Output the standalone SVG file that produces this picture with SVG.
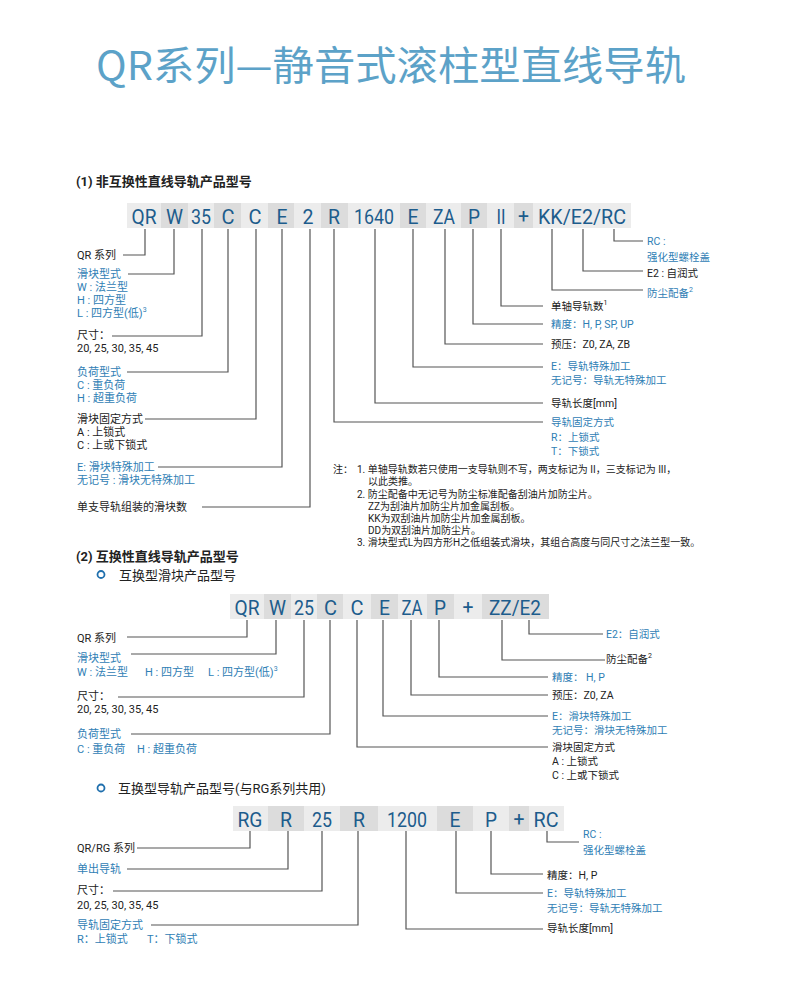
<svg xmlns="http://www.w3.org/2000/svg" width="800" height="994" viewBox="0 0 800 994">
<style>
text{font-family:Roboto,"Noto Sans CJK SC",sans-serif;}
.title{font-family:"Noto Sans CJK SC",sans-serif;font-size:40px;fill:#5ca2c8;}
.hd{font-size:13px;fill:#222;font-weight:bold;}
.sub{font-size:13px;fill:#222;}
.code{font-size:21px;fill:#1d5c8c;text-anchor:middle;}
.k{font-size:11px;fill:#222;}
.b{font-size:11px;fill:#2f80b5;}
.kr{font-size:10.5px;fill:#222;}
.br{font-size:10.5px;fill:#2f80b5;}
.n{font-size:10px;fill:#222;}
.lt{fill:#ececec;}
.dk{fill:#dcdcdc;}
.ln{fill:none;stroke:#555;stroke-width:1.2;}
.ring{fill:none;stroke:#1f6fad;stroke-width:1.8;}
</style>
<rect width="800" height="994" fill="#fff"/>
<text class="title" x="391" y="80" text-anchor="middle" textLength="590" lengthAdjust="spacingAndGlyphs">QR系列—静音式滚柱型直线导轨</text>

<!-- Section 1 -->
<text class="hd" x="76" y="186">(1) 非互换性直线导轨产品型号</text>
<g id="row1">
<rect class="lt" x="127" y="203" width="34" height="25"/><text class="code" x="144" y="224" textLength="25" lengthAdjust="spacingAndGlyphs">QR</text>
<rect class="dk" x="161" y="203" width="27" height="25"/><text class="code" x="174.5" y="224" textLength="17" lengthAdjust="spacingAndGlyphs">W</text>
<rect class="lt" x="188" y="203" width="26" height="25"/><text class="code" x="201" y="224" textLength="20" lengthAdjust="spacingAndGlyphs">35</text>
<rect class="dk" x="214" y="203" width="27" height="25"/><text class="code" x="228" y="224" textLength="13" lengthAdjust="spacingAndGlyphs">C</text>
<rect class="lt" x="241" y="203" width="27" height="25"/><text class="code" x="255" y="224" textLength="13" lengthAdjust="spacingAndGlyphs">C</text>
<rect class="dk" x="268" y="203" width="26" height="25"/><text class="code" x="282" y="224" textLength="11" lengthAdjust="spacingAndGlyphs">E</text>
<rect class="lt" x="294" y="203" width="27" height="25"/><text class="code" x="308" y="224" textLength="11" lengthAdjust="spacingAndGlyphs">2</text>
<rect class="dk" x="321" y="203" width="27" height="25"/><text class="code" x="334" y="224" textLength="12" lengthAdjust="spacingAndGlyphs">R</text>
<rect class="lt" x="348" y="203" width="52" height="25"/><text class="code" x="374" y="224" textLength="40" lengthAdjust="spacingAndGlyphs">1640</text>
<rect class="dk" x="400" y="203" width="26" height="25"/><text class="code" x="413" y="224" textLength="11" lengthAdjust="spacingAndGlyphs">E</text>
<rect class="lt" x="426" y="203" width="35" height="25"/><text class="code" x="444" y="224" textLength="22" lengthAdjust="spacingAndGlyphs">ZA</text>
<rect class="dk" x="461" y="203" width="26" height="25"/><text class="code" x="474" y="224" textLength="12" lengthAdjust="spacingAndGlyphs">P</text>
<rect class="lt" x="487" y="203" width="27" height="25"/><text class="code" x="501" y="224" textLength="9" lengthAdjust="spacingAndGlyphs">II</text>
<rect class="dk" x="514" y="203" width="19" height="25"/><text class="code" x="523.5" y="223" textLength="11" lengthAdjust="spacingAndGlyphs">+</text>
<rect class="lt" x="533" y="203" width="98" height="25"/><text class="code" x="582" y="224" textLength="88" lengthAdjust="spacingAndGlyphs">KK/E2/RC</text>
</g>
<g id="labels1-left">
<text class="k" x="77" y="259">QR 系列</text>
<text class="b" x="77" y="278" font-size="12">滑块型式</text>
<text class="b" x="77" y="291">W : 法兰型</text>
<text class="b" x="77" y="304">H : 四方型</text>
<text class="b" x="77" y="317">L : 四方型(低)<tspan font-size="7" dy="-5">3</tspan></text>
<text class="k" x="77" y="339" font-size="12">尺寸：</text>
<text class="k" x="77" y="352">20, 25, 30, 35, 45</text>
<text class="b" x="77" y="376" font-size="12">负荷型式</text>
<text class="b" x="77" y="389">C : 重负荷</text>
<text class="b" x="77" y="402">H : 超重负荷</text>
<text class="k" x="77" y="423" font-size="11.5">滑块固定方式</text>
<text class="k" x="77" y="436">A : 上锁式</text>
<text class="k" x="77" y="449">C : 上或下锁式</text>
<text class="b" x="77" y="471" font-size="11.5">E: 滑块特殊加工</text>
<text class="b" x="77" y="484">无记号 : 滑块无特殊加工</text>
<text class="k" x="77" y="511" font-size="12.5">单支导轨组装的滑块数</text>
</g>
<g id="labels1-right">
<text class="br" x="647" y="245">RC :</text>
<text class="br" x="647" y="261">强化型螺栓盖</text>
<text class="kr" x="647" y="277">E2 : 自润式</text>
<text class="br" x="647" y="297">防尘配备<tspan font-size="7" dy="-5">2</tspan></text>
<text class="kr" x="551" y="310">单轴导轨数<tspan font-size="7" dy="-5">1</tspan></text>
<text class="br" x="551" y="328">精度：H, P, SP, UP</text>
<text class="kr" x="551" y="348">预压：Z0, ZA, ZB</text>
<text class="br" x="551" y="370">E：导轨特殊加工</text>
<text class="br" x="551" y="384">无记号：导轨无特殊加工</text>
<text class="kr" x="551" y="407">导轨长度[mm]</text>
<text class="br" x="551" y="426">导轨固定方式</text>
<text class="br" x="551" y="441">R：上锁式</text>
<text class="br" x="551" y="455">T：下锁式</text>
</g>
<g id="notes">
<text class="n" x="333" y="473">注：</text>
<text class="n" x="357" y="473">1. 单轴导轨数若只使用一支导轨则不写，两支标记为 II，三支标记为 III，</text>
<text class="n" x="368" y="485">以此类推。</text>
<text class="n" x="357" y="498">2. 防尘配备中无记号为防尘标准配备刮油片加防尘片。</text>
<text class="n" x="368" y="510">ZZ为刮油片加防尘片加金属刮板。</text>
<text class="n" x="368" y="522">KK为双刮油片加防尘片加金属刮板。</text>
<text class="n" x="368" y="534">DD为双刮油片加防尘片。</text>
<text class="n" x="357" y="546">3. 滑块型式L为四方形H之低组装式滑块，其组合高度与同尺寸之法兰型一致。</text>
</g>

<!-- Section 2 -->
<text class="hd" x="76" y="561">(2) 互换性直线导轨产品型号</text>
<circle class="ring" cx="101" cy="574.5" r="3.5"/>
<text class="sub" x="119" y="580">互换型滑块产品型号</text>
<g id="row2">
<rect class="lt" x="230" y="594" width="34" height="25"/><text class="code" x="247" y="615" textLength="25" lengthAdjust="spacingAndGlyphs">QR</text>
<rect class="dk" x="264" y="594" width="27" height="25"/><text class="code" x="277.5" y="615" textLength="17" lengthAdjust="spacingAndGlyphs">W</text>
<rect class="lt" x="291" y="594" width="26" height="25"/><text class="code" x="304" y="615" textLength="20" lengthAdjust="spacingAndGlyphs">25</text>
<rect class="dk" x="317" y="594" width="26" height="25"/><text class="code" x="330.5" y="615" textLength="13" lengthAdjust="spacingAndGlyphs">C</text>
<rect class="lt" x="343" y="594" width="28" height="25"/><text class="code" x="357" y="615" textLength="13" lengthAdjust="spacingAndGlyphs">C</text>
<rect class="dk" x="371" y="594" width="27" height="25"/><text class="code" x="384.5" y="615" textLength="11" lengthAdjust="spacingAndGlyphs">E</text>
<rect class="lt" x="398" y="594" width="29" height="25"/><text class="code" x="412" y="615" textLength="21" lengthAdjust="spacingAndGlyphs">ZA</text>
<rect class="dk" x="427" y="594" width="27" height="25"/><text class="code" x="440" y="615" textLength="12" lengthAdjust="spacingAndGlyphs">P</text>
<rect class="lt" x="454" y="594" width="28" height="25"/><text class="code" x="468" y="614" textLength="11" lengthAdjust="spacingAndGlyphs">+</text>
<rect class="dk" x="482" y="594" width="67" height="25"/><text class="code" x="515" y="615" textLength="52" lengthAdjust="spacingAndGlyphs">ZZ/E2</text>
</g>
<g id="labels2-left">
<text class="k" x="77" y="642">QR 系列</text>
<text class="b" x="77" y="662">滑块型式</text>
<text class="b" x="77" y="676">W : 法兰型</text>
<text class="b" x="145" y="676">H : 四方型</text>
<text class="b" x="208" y="676">L : 四方型(低)<tspan font-size="7" dy="-5">3</tspan></text>
<text class="k" x="77" y="700">尺寸：</text>
<text class="k" x="77" y="713">20, 25, 30, 35, 45</text>
<text class="b" x="77" y="738">负荷型式</text>
<text class="b" x="77" y="753">C : 重负荷</text>
<text class="b" x="137" y="753">H : 超重负荷</text>
</g>
<g id="labels2-right">
<text class="br" x="606" y="638">E2：自润式</text>
<text class="kr" x="606" y="663">防尘配备<tspan font-size="7" dy="-5">2</tspan></text>
<text class="br" x="552" y="681">精度： H, P</text>
<text class="kr" x="552" y="699">预压：Z0, ZA</text>
<text class="br" x="552" y="720">E：滑块特殊加工</text>
<text class="br" x="552" y="734">无记号：滑块无特殊加工</text>
<text class="kr" x="552" y="751">滑块固定方式</text>
<text class="kr" x="552" y="765">A : 上锁式</text>
<text class="kr" x="552" y="779">C : 上或下锁式</text>
</g>

<!-- Section 3 -->
<circle class="ring" cx="101" cy="788" r="3.5"/>
<text class="sub" x="118" y="793">互换型导轨产品型号(与RG系列共用)</text>
<g id="row3">
<rect class="lt" x="233" y="806" width="35" height="25"/><text class="code" x="250" y="827" textLength="25" lengthAdjust="spacingAndGlyphs">RG</text>
<rect class="dk" x="268" y="806" width="36" height="25"/><text class="code" x="286" y="827" textLength="12" lengthAdjust="spacingAndGlyphs">R</text>
<rect class="lt" x="304" y="806" width="36" height="25"/><text class="code" x="322" y="827" textLength="20" lengthAdjust="spacingAndGlyphs">25</text>
<rect class="dk" x="340" y="806" width="38" height="25"/><text class="code" x="359" y="827" textLength="12" lengthAdjust="spacingAndGlyphs">R</text>
<rect class="lt" x="378" y="806" width="59" height="25"/><text class="code" x="407" y="827" textLength="40" lengthAdjust="spacingAndGlyphs">1200</text>
<rect class="dk" x="437" y="806" width="36" height="25"/><text class="code" x="455" y="827" textLength="11" lengthAdjust="spacingAndGlyphs">E</text>
<rect class="lt" x="473" y="806" width="36" height="25"/><text class="code" x="491" y="827" textLength="12" lengthAdjust="spacingAndGlyphs">P</text>
<rect class="dk" x="509" y="806" width="20" height="25"/><text class="code" x="519" y="826" textLength="11" lengthAdjust="spacingAndGlyphs">+</text>
<rect class="lt" x="529" y="806" width="35" height="25"/><text class="code" x="546" y="827" textLength="25" lengthAdjust="spacingAndGlyphs">RC</text>
</g>
<g id="labels3-left">
<text class="k" x="77" y="852">QR/RG 系列</text>
<text class="b" x="77" y="873">单出导轨</text>
<text class="k" x="77" y="894">尺寸：</text>
<text class="k" x="77" y="909">20, 25, 30, 35, 45</text>
<text class="b" x="77" y="929">导轨固定方式</text>
<text class="b" x="77" y="943">R：上锁式</text>
<text class="b" x="147" y="943">T：下锁式</text>
</g>
<g id="labels3-right">
<text class="br" x="583" y="838">RC :</text>
<text class="br" x="583" y="854">强化型螺栓盖</text>
<text class="kr" x="547" y="879">精度：H, P</text>
<text class="br" x="547" y="897">E：导轨特殊加工</text>
<text class="br" x="547" y="912">无记号：导轨无特殊加工</text>
<text class="kr" x="547" y="932">导轨长度[mm]</text>
</g>

<g id="connectors">
<path class="ln" d="M145,229 V255 H123"/>
<path class="ln" d="M174,229 V274 H128"/>
<path class="ln" d="M202,229 V336 H112"/>
<path class="ln" d="M228,229 V372 H127"/>
<path class="ln" d="M256,229 V419 H145"/>
<path class="ln" d="M282,229 V467 H158"/>
<path class="ln" d="M310,229 V507 H202"/>
<path class="ln" d="M334,229 V422 H543"/>
<path class="ln" d="M375,229 V403 H543"/>
<path class="ln" d="M413,229 V367 H543"/>
<path class="ln" d="M445,229 V344 H543"/>
<path class="ln" d="M473,229 V324 H543"/>
<path class="ln" d="M501,229 V306 H543"/>
<path class="ln" d="M552,229 V290 H643"/>
<path class="ln" d="M583,229 V271 H643"/>
<path class="ln" d="M614,229 V241 H643"/>

<path class="ln" d="M247,620 V637 H127"/>
<path class="ln" d="M276,620 V654 H131"/>
<path class="ln" d="M304,620 V697 H118"/>
<path class="ln" d="M330,620 V734 H131"/>
<path class="ln" d="M357,620 V747 H548"/>
<path class="ln" d="M383,620 V716 H548"/>
<path class="ln" d="M411,620 V695 H548"/>
<path class="ln" d="M439,620 V677 H548"/>
<path class="ln" d="M502,620 V660 H605"/>
<path class="ln" d="M529,620 V634 H603"/>

<path class="ln" d="M250,831 V848 H137"/>
<path class="ln" d="M288,831 V869 H127"/>
<path class="ln" d="M322,831 V891 H113"/>
<path class="ln" d="M358,831 V925 H151"/>
<path class="ln" d="M406,831 V929 H543"/>
<path class="ln" d="M456,831 V893 H543"/>
<path class="ln" d="M491,831 V874 H543"/>
<path class="ln" d="M547,831 V842 H579"/>
</g>
</svg>
